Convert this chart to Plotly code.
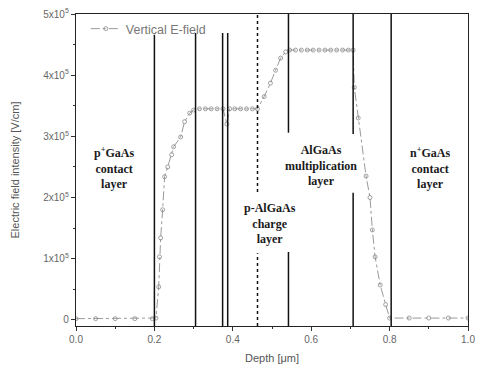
import plotly.graph_objects as go

# Electric field profile (depth in um, field in V/cm)
depth = [0.0, 0.05, 0.10, 0.15, 0.195, 0.204, 0.211, 0.213, 0.216, 0.221, 0.226, 0.234,
         0.244, 0.249, 0.267, 0.277, 0.290, 0.300, 0.315, 0.330, 0.345, 0.360, 0.375,
         0.385, 0.392, 0.405, 0.420, 0.435, 0.450, 0.463, 0.480, 0.496, 0.509, 0.522,
         0.535, 0.545, 0.560, 0.575, 0.590, 0.605, 0.620, 0.635, 0.650, 0.665, 0.680,
         0.695, 0.707, 0.710, 0.720, 0.740, 0.750, 0.756, 0.763, 0.776, 0.790, 0.800,
         0.850, 0.900, 0.950, 1.0]
field = [2e3, 2e3, 2e3, 2e3, 2e3, 3e3, 5.4e4, 1.03e5, 1.34e5, 1.80e5, 2.34e5, 2.50e5,
         2.70e5, 2.83e5, 2.99e5, 3.24e5, 3.38e5, 3.43e5, 3.45e5, 3.45e5, 3.45e5, 3.45e5, 3.45e5,
         3.20e5, 3.45e5, 3.45e5, 3.45e5, 3.45e5, 3.45e5, 3.45e5, 3.65e5, 3.87e5, 4.08e5, 4.28e5,
         4.38e5, 4.41e5, 4.41e5, 4.41e5, 4.41e5, 4.41e5, 4.41e5, 4.41e5, 4.41e5, 4.41e5, 4.41e5,
         4.41e5, 4.41e5, 3.80e5, 3.30e5, 2.35e5, 2.00e5, 1.47e5, 1.03e5, 5.7e4, 2.5e4, 3e3,
         3e3, 3e3, 3e3, 3e3]

# Layer boundaries (um)
boundaries = [0.2, 0.305, 0.374, 0.387, 0.463, 0.542, 0.707, 0.804]

# Layer labels
layer_labels = ["<b>p<sup>+</sup>GaAs<br>contact<br>layer</b>",
                "<b>p-AlGaAs<br>charge<br>layer</b>",
                "<b>AlGaAs<br>multiplication<br>layer</b>",
                "<b>n<sup>+</sup>GaAs<br>contact<br>layer</b>"]
label_x = [0.097, 0.496, 0.626, 0.903]
label_y = [2.48e5, 1.58e5, 2.53e5, 2.48e5]

x_ticks = [0.0, 0.2, 0.4, 0.6, 0.8, 1.0]
x_ticktext = ["0.0", "0.2", "0.4", "0.6", "0.8", "1.0"]
y_ticks = [0, 1e5, 2e5, 3e5, 4e5, 5e5]
y_ticktext = ["0", "1x10<sup>5</sup>", "2x10<sup>5</sup>", "3x10<sup>5</sup>",
              "4x10<sup>5</sup>", "5x10<sup>5</sup>"]

fig = go.Figure()
fig.add_trace(go.Scatter(
    x=depth, y=field, mode="lines+markers", name="Vertical E-field",
    line=dict(color="#9a9a9a", width=1, dash="dashdot"),
    marker=dict(symbol="circle-open", size=4, color="#8a8a8a", line=dict(width=0.8)),
))

# vertical boundary lines, with gaps around the labels
ymin, ymax = -1e4, 5e5
segments = {
    0.2: [(ymin, 4.66e5)],
    0.305: [(ymin, 4.69e5)],
    0.374: [(ymin, 4.69e5)],
    0.387: [(ymin, 4.69e5)],
    0.463: [(ymin, 1.09e5), (2.09e5, ymax)],
    0.542: [(ymin, 1.11e5), (3.06e5, ymax)],
    0.707: [(ymin, 2.08e5), (3.04e5, ymax)],
    0.804: [(ymin, ymax)],
}
for b in boundaries:
    for (y0, y1) in segments[b]:
        fig.add_shape(type="line", xref="x", yref="y", x0=b, x1=b, y0=y0, y1=y1,
                      line=dict(color="#111111", width=1.5,
                                dash="dot" if b == 0.463 else "solid"))

for t, xx, yy in zip(layer_labels, label_x, label_y):
    fig.add_annotation(x=xx, y=yy, text=t, showarrow=False, xref="x", yref="y",
                       font=dict(family="Liberation Serif", size=12, color="#1a1a1a"),
                       align="center")

axis_font = dict(family="Liberation Sans", size=10, color="#666666")
fig.update_layout(
    width=480, height=370,
    margin=dict(l=76, r=12, t=14, b=44),
    paper_bgcolor="white", plot_bgcolor="white",
    showlegend=True,
    legend=dict(x=0.025, y=1.0, xanchor="left", yanchor="top",
                bgcolor="rgba(0,0,0,0)", font=dict(family="Liberation Sans", size=12.5, color="#777777"),
                itemwidth=30),
    font=dict(family="Liberation Sans"),
)
fig.update_xaxes(
    range=[0, 1], tickvals=x_ticks, ticktext=x_ticktext, tickfont=axis_font,
    ticks="outside", ticklen=4, tickcolor="#333", showgrid=False, zeroline=False,
    showline=True, linecolor="#222", linewidth=1.3, mirror=True, automargin=False,
    ticklabeloverflow="allow",
    minor=dict(ticks="outside", ticklen=2, dtick=0.1, tickcolor="#333", showgrid=False),
    title=dict(text="Depth [μm]", font=dict(family="Liberation Sans", size=11, color="#555"), standoff=10),
)
fig.update_yaxes(
    range=[ymin, ymax], tickvals=y_ticks, ticktext=y_ticktext, tickfont=axis_font,
    ticks="outside", ticklen=4, tickcolor="#333", showgrid=False, zeroline=False,
    showline=True, linecolor="#222", linewidth=1.3, mirror=True, automargin=False,
    ticklabeloverflow="allow",
    minor=dict(ticks="outside", ticklen=2, dtick=5e4, tickcolor="#333", showgrid=False),
    title=dict(text="Electric field intensity [V/cm]", font=dict(family="Liberation Sans", size=11, color="#555"), standoff=21),
)

# remove the browser's default page margin so the figure fills the 480x370 window
fig.write_html("out.html", config={"displayModeBar": False},
               post_script="document.body.style.margin='0';")
